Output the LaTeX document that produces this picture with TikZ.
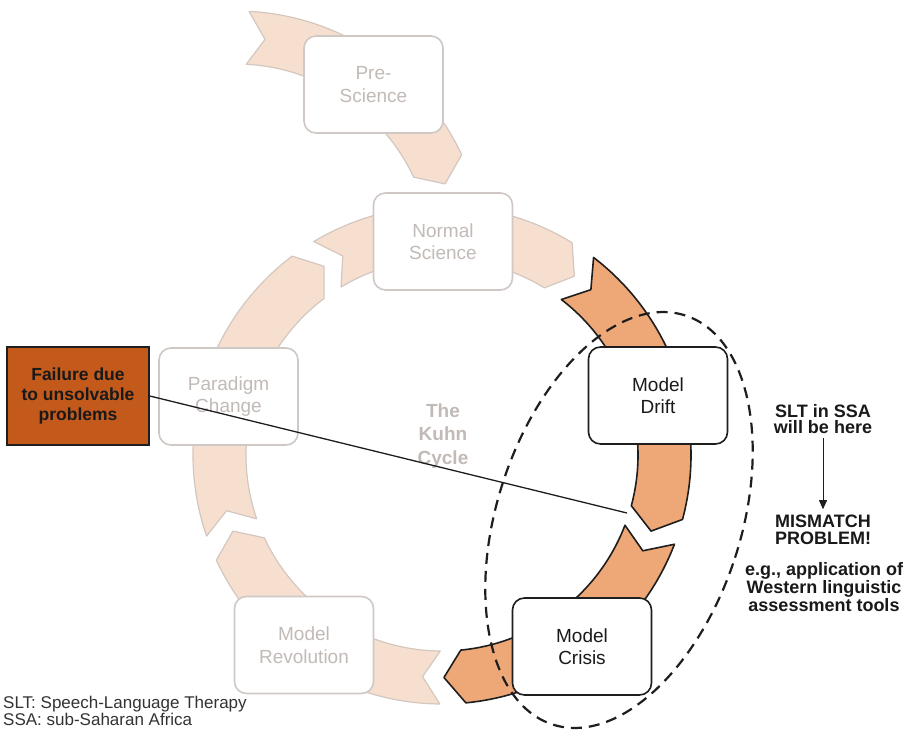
\documentclass[tikz,border=0pt]{standalone}
\usepackage{fontspec}
\setmainfont{Liberation Sans}
\usetikzlibrary{calc,arrows.meta,shapes.geometric}

\definecolor{peach}{HTML}{F7DFD0}
\definecolor{peachline}{HTML}{D3C7C0}
\definecolor{fadeline}{HTML}{CFC8C4}
\definecolor{fadetext}{HTML}{C2BAB6}
\definecolor{driftorange}{HTML}{EEA878}
\definecolor{failurefill}{HTML}{C35A1C}
\definecolor{inkline}{HTML}{1E1E1E}

% One curved block arrow of the cycle: centre, tail angle, tip angle, style.
% The band runs clockwise from the notched tail to the pointed tip.
\newcommand{\cyclearrow}[4]{%
  \path[#4] ($(#1)+(#2:249pt)$)
    arc[start angle=#2, end angle={#3+5}, radius=249pt]
    -- ($(#1)+(#3:222.5pt)$)
    -- ($(#1)+({#3+5}:196pt)$)
    arc[start angle={#3+5}, end angle=#2, radius=196pt]
    -- ($(#1)+({#2-4.5}:222.5pt)$) -- cycle;
}

\tikzset{
  lightarc/.style={fill=peach, draw=peachline, line width=1.2pt, line join=round},
  darkarc/.style={fill=driftorange, draw=inkline, line width=1.6pt, line join=round},
  stagebox/.style={draw=fadeline, line width=1.6pt, fill=white, rounded corners=12pt,
    minimum width=139pt, minimum height=97pt, text=fadetext, align=center,
    font=\fontsize{19}{22.5}\selectfont},
  stagefocus/.style={stagebox, draw=inkline, text=black!90},
  note/.style={align=center, text=black!90, inner sep=2pt,
    font=\bfseries\fontsize{18}{16.5}\selectfont},
  legendtext/.style={anchor=base west, inner sep=0pt, text=black!80,
    font=\fontsize{17}{18}\selectfont},
}

\begin{document}
\begin{tikzpicture}[x=1pt, y=1pt]
  \useasboundingbox (0,0) rectangle (903,-731);
  \fill[white] (0,0) rectangle (903,-731);

  % centres of the two circular tracks
  \coordinate (K) at (442,-455);
  \coordinate (P) at (236,-260);

  % the cycle arrows
  \cyclearrow{P}{87}{20}{lightarc}
  \cyclearrow{K}{121}{53.5}{lightarc}
  \cyclearrow{K}{-90.5}{-160}{lightarc}
  \cyclearrow{K}{199}{122}{lightarc}
  \cyclearrow{K}{52.5}{-20}{darkarc}
  \cyclearrow{K}{-21}{-89.5}{darkarc}

  % stages
  \node[stagebox]   (pre)        at (373.5,-84.5) {Pre-\\Science};
  \node[stagebox]   (normal)     at (443,-241.5)  {Normal\\Science};
  \node[stagebox]   (paradigm)   at (228.5,-396.5) {Paradigm\\Change};
  \node[stagefocus] (drift)      at (658,-395.5)  {Model\\Drift};
  \node[stagefocus] (crisis)     at (582,-646.5)  {Model\\Crisis};
  \node[stagebox]   (revolution) at (304,-645)    {Model\\Revolution};

  \node[align=center, text=fadetext, font=\bfseries\fontsize{19}{23.5}\selectfont]
    (kuhn) at (443,-436) {The\\Kuhn\\Cycle};

  % failure callout
  \node[draw=inkline, line width=1.6pt, fill=failurefill, minimum width=142pt,
    minimum height=98pt, align=center, text=black!90,
    font=\bfseries\fontsize{17.5}{20}\selectfont]
    (failure) at (78,-396) {Failure due\\to unsolvable\\problems};
  \coordinate (gap) at (627,-513);
  \draw[inkline, line width=1.3pt] (failure.east) -- (gap);

  % region of interest
  \node[draw=inkline, line width=2.2pt, dash pattern=on 11pt off 7pt, ellipse,
    minimum width=244pt, minimum height=430pt, inner sep=0pt, rotate=-18]
    (zone) at (619,-520) {};

  % side notes
  \node[note] (slt) at (823,-419) {SLT in SSA\\will be here};
  \node[note] (mismatch) at (823,-530) {MISMATCH\\PROBLEM!};
  \node[note] (example) at (824,-587) {e.g., application of\\Western linguistic\\assessment tools};
  \draw[inkline, line width=0.9pt, -{Triangle[width=8pt,length=9pt]},
    shorten <=2pt, shorten >=4pt]
    (slt.south) -- (mismatch.north);

  % abbreviations
  \node[legendtext] (abbrslt) at (3,-708.5) {SLT: Speech-Language Therapy};
  \node[legendtext] (abbrssa) at (3,-725.5) {SSA: sub-Saharan Africa};
\end{tikzpicture}
\end{document}
